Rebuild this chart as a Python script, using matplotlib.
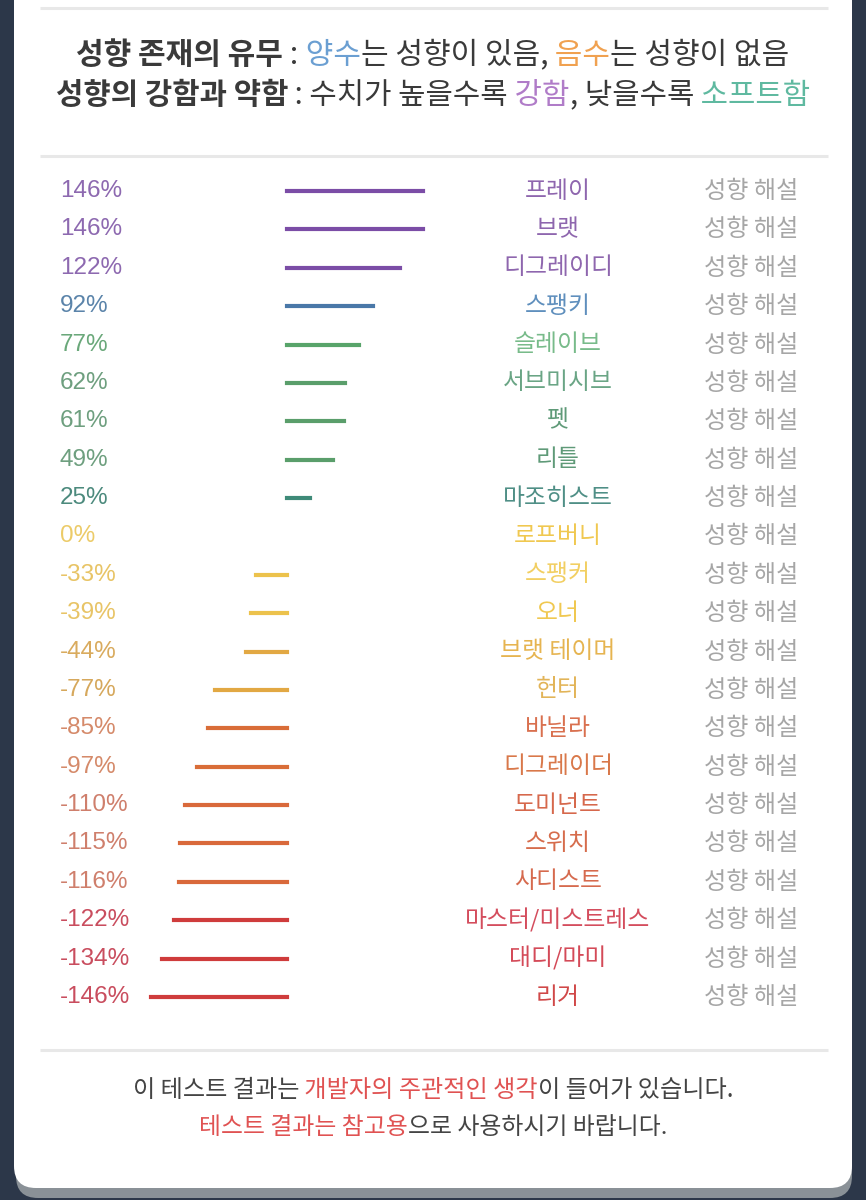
import matplotlib
matplotlib.use("Agg")
import matplotlib.pyplot as plt
import matplotlib.transforms as mtrans
from matplotlib.patches import FancyBboxPatch

# ---- data -------------------------------------------------------------
pcts = [146, 146, 122, 92, 77, 62, 61, 49, 25, 0, -33, -39, -44, -77,
        -85, -97, -110, -115, -116, -122, -134, -146]
names = ["프레이", "브랫", "디그레이디", "스팽키", "슬레이브", "서브미시브",
         "펫", "리틀", "마조히스트", "로프버니", "스팽커", "오너", "브랫 테이머",
         "헌터", "바닐라", "디그레이더", "도미넌트", "스위치", "사디스트",
         "마스터/미스트레스", "대디/마미", "리거"]
bar_colors = ["#7b4da6", "#7b4da6", "#7b4da6", "#4a78a8", "#58a46a",
              "#5a9e6b", "#5a9e6b", "#5a9e6b", "#3e8a78", "#ecc24c",
              "#ecc24c", "#ecc24c", "#e2a843", "#e2a843", "#d96d38",
              "#d96d38", "#d9693b", "#d9693b", "#d9693b", "#cf3c3c",
              "#cf3c3c", "#cf3c3c"]
pct_colors = ["#8d69b0", "#8d69b0", "#8d69b0", "#5b84aa", "#6aa87a",
              "#6e9f7f", "#6e9f7f", "#6e9f7f", "#4c8a7d", "#eccb68",
              "#e8c466", "#e8c466", "#d9ab5e", "#d6a85c", "#d58a6a",
              "#d58a6a", "#cf7f6c", "#cf7f6c", "#cf7f6c", "#c94d5e",
              "#c94d5e", "#c94d5e"]
name_colors = ["#8e66ae", "#8e66ae", "#8e66ae", "#5f8fbd", "#78bb8a",
               "#6aa585", "#5f9a78", "#5f9a78", "#4f8f86", "#f0c850",
               "#f2cf62", "#f0c850", "#e6b450", "#e2b458", "#d9704f",
               "#d9784a", "#d6684c", "#d66c4c", "#d66a4e", "#d44d5d",
               "#d44a58", "#d04848"]
note_label = "성향 해설"

KR = ["Noto Sans CJK KR", "DejaVu Sans"]
W, H = 866, 1200
CX = 433
DARK = "#3a3a3a"

fig = plt.figure(figsize=(W / 100, H / 100), dpi=100)
fig.patch.set_facecolor("#2c3749")

# ---- card background (pixel space) ----------------------------------
bg = fig.add_axes([0, 0, 1, 1])
bg.set_xlim(0, W)
bg.set_ylim(H, 0)
bg.axis("off")
bg.add_patch(FancyBboxPatch((16, -40), 836, 1238,
                            boxstyle="round,pad=0,rounding_size=22",
                            fc="#8a9197", ec="none"))
bg.add_patch(FancyBboxPatch((14, -40), 838, 1228,
                            boxstyle="round,pad=0,rounding_size=22",
                            fc="white", ec="none"))
for yy in (8, 156, 1050):
    bg.plot([40, 828], [yy, yy], color="#e8e8e8", lw=2.2,
            solid_capstyle="butt")


def rich_line(y_px, pieces, size):
    r = fig.canvas.get_renderer()
    objs = []
    for s, c, w in pieces:
        t = fig.text(0, 1 - y_px / H, s, color=c, fontsize=size,
                     fontweight=w, family=KR, ha="left", va="center")
        objs.append(t)
    widths = [t.get_window_extent(r).width for t in objs]
    x = CX - sum(widths) / 2
    for t, w in zip(objs, widths):
        t.set_x(x / W)
        x += w


# ---- header -----------------------------------------------------------
rich_line(55, [("성향 존재의 유무", DARK, "bold"), (" :", DARK, "normal"),
               (" 양수", "#6b9fd2", "normal"),
               ("는 성향이 있음,", DARK, "normal"),
               (" 음수", "#f0a150", "normal"),
               ("는 성향이 없음", DARK, "normal")], 21.6)
rich_line(95, [("성향의 강함과 약함", DARK, "bold"),
               (" : 수치가 높을수록", DARK, "normal"),
               (" 강함", "#b07cc8", "normal"), (", 낮을수록", DARK, "normal"),
               (" 소프트함", "#5fb9a0", "normal")], 21.4)

# ---- rows -------------------------------------------------------------
ax = fig.add_axes([40 / W, 1 - 1020 / H, (830 - 40) / W, (1020 - 170) / H])
ax.patch.set_alpha(0)
ax.axis("off")
scale = 0.93
ax.set_xlim(-(287 - 40) / scale, (830 - 287) / scale)
step = (997 - 191) / 21
ax.set_ylim(21 + (1020 - 997) / step, -(191 - 170) / step)

rows = list(range(len(pcts)))
for i, v in zip(rows, pcts):
    ax.plot([0, v], [i, i], color=bar_colors[i], lw=3,
            solid_capstyle="projecting")

tr = mtrans.blended_transform_factory(fig.transFigure, ax.transData)
for i, v in zip(rows, pcts):
    ax.text(60 / W, i, f"{v}%", transform=tr, color=pct_colors[i],
            fontsize=17.5, family="Liberation Sans", ha="left",
            va="center")
    ax.text(558 / W, i, names[i], transform=tr, color=name_colors[i],
            fontsize=17.2, family=KR, ha="center", va="center")
    ax.text(751 / W, i, note_label, transform=tr, color="#a6a6a6",
            fontsize=17.4, family=KR, ha="center", va="center")

# ---- footer -----------------------------------------------------------
rich_line(1090, [("이 테스트 결과는", "#444444", "normal"),
                 (" 개발자의 주관적인 생각", "#e05252", "medium"),
                 ("이 들어가 있습니다.", "#444444", "normal")], 17.4)
rich_line(1127, [("테스트 결과는 참고용", "#e05252", "medium"),
                 ("으로 사용하시기 바랍니다.", "#444444", "normal")], 17.2)

fig.savefig("out.png", dpi=100, facecolor=fig.get_facecolor())
